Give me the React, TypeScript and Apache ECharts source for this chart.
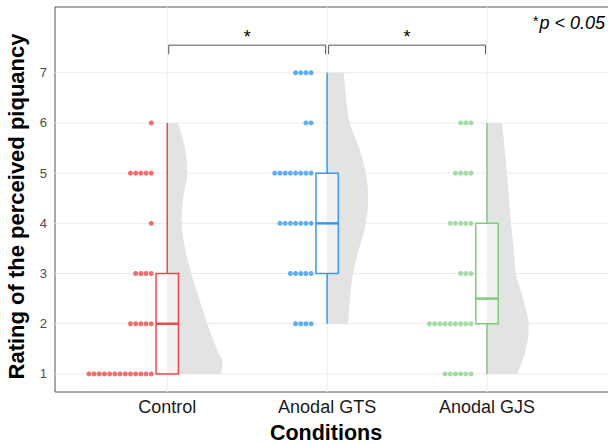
import React, { useEffect, useRef } from 'react';
import * as echarts from 'echarts';

// ---------- data ----------
const categories = ['Control', 'Anodal GTS', 'Anodal GJS'];
const ratingLevels = [1, 2, 3, 4, 5, 6, 7];
const controlCounts = [13, 5, 4, 1, 5, 1, 0];
const gtsCounts = [0, 4, 5, 7, 8, 2, 4];
const gjsCounts = [6, 9, 3, 5, 4, 3, 0];
const yTicks = [1, 2, 3, 4, 5, 6, 7];

// half-violin density outline (rating, half-width in x-axis units)
const controlDensityY = [1, 1.25, 1.5, 2, 2.5, 3, 3.5, 4, 4.5, 5, 5.5, 6];
const controlDensityW = [0.335, 0.345, 0.31, 0.25, 0.2, 0.15, 0.112, 0.09, 0.1, 0.125, 0.11, 0.067];
const gtsDensityY = [2, 2.5, 3, 3.5, 4, 4.5, 5, 5.5, 6, 6.5, 7];
const gtsDensityW = [0.131, 0.142, 0.163, 0.2, 0.242, 0.256, 0.242, 0.2, 0.142, 0.119, 0.104];
const gjsDensityY = [1, 1.5, 2, 2.5, 3, 3.5, 4, 4.5, 5, 5.5, 6];
const gjsDensityW = [0.19, 0.244, 0.26, 0.225, 0.181, 0.167, 0.15, 0.138, 0.125, 0.11, 0.094];

const comparisons = [[1, 2], [2, 3]];
const comparisonLabels = ['*', '*'];

// ---------- styling ----------
const FONT = '"Liberation Sans", Arial, Helvetica, sans-serif';
const dotColors = ['#F26D6D', '#5CAEF5', '#A3DBA3'];
const lineColors = ['#EB4A4C', '#3A98F0', '#7ECB7C'];
const X_MIN = 0.298;
const X_MAX = 3.788;
const Y_MIN = 0.64;
const Y_MAX = 8.31;
const DOT_OFFSET = 0.1;
const DOT_STEP = 0.0325;
const BOX_HALF = 0.07;
const BRACKET_Y = 7.55;
const BRACKET_TICK_Y = 7.37;

const allCounts = [controlCounts, gtsCounts, gjsCounts];
const densityY = [controlDensityY, gtsDensityY, gjsDensityY];
const densityW = [controlDensityW, gtsDensityW, gjsDensityW];

function expand(counts: number[]) {
  const out: number[] = [];
  counts.forEach((c, i) => {
    for (let k = 0; k < c; k++) out.push(ratingLevels[i]);
  });
  return out;
}
function quantile(sorted: number[], p: number) {
  const h = (sorted.length - 1) * p;
  const lo = Math.floor(h);
  const hi = Math.ceil(h);
  return sorted[lo] + (h - lo) * (sorted[hi] - sorted[lo]);
}
function boxStats(counts: number[]) {
  const v = expand(counts).sort((a, b) => a - b);
  const q1 = quantile(v, 0.25);
  const med = quantile(v, 0.5);
  const q3 = quantile(v, 0.75);
  const iqr = q3 - q1;
  const lo = v.filter((x) => x >= q1 - 1.5 * iqr)[0];
  const hiArr = v.filter((x) => x <= q3 + 1.5 * iqr);
  const hi = hiArr[hiArr.length - 1];
  return [lo, q1, med, q3, hi];
}
function catmull(pts: number[][], steps: number) {
  const out: number[][] = [];
  for (let i = 0; i < pts.length - 1; i++) {
    const p0 = pts[i - 1] || pts[i];
    const p1 = pts[i];
    const p2 = pts[i + 1];
    const p3 = pts[i + 2] || pts[i + 1];
    for (let s = 0; s < steps; s++) {
      const t = s / steps;
      const t2 = t * t;
      const t3 = t2 * t;
      const f = (a: number, b: number, c: number, d: number) =>
        0.5 * (2 * b + (-a + c) * t + (2 * a - 5 * b + 4 * c - d) * t2 + (-a + 3 * b - 3 * c + d) * t3);
      out.push([f(p0[0], p1[0], p2[0], p3[0]), f(p0[1], p1[1], p2[1], p3[1])]);
    }
  }
  out.push(pts[pts.length - 1]);
  return out;
}

export default function App() {
  const ref = useRef<HTMLDivElement>(null);
  useEffect(() => {
    document.body.style.margin = '0';
    if (!ref.current) return;
    const chart = echarts.init(ref.current, undefined, { renderer: 'svg' });

    const dotSeries = categories.map((name, g) => {
      const data: number[][] = [];
      allCounts[g].forEach((c, i) => {
        for (let k = 0; k < c; k++) data.push([g + 1 - DOT_OFFSET - k * DOT_STEP, ratingLevels[i]]);
      });
      return {
        type: 'scatter',
        name,
        data,
        symbolSize: 5,
        z: 3,
        itemStyle: { color: dotColors[g], opacity: 1 },
        emphasis: { disabled: true },
        silent: true,
      };
    });

    const stats = allCounts.map(boxStats);

    const option: any = {
      animation: false,
      grid: {
        left: 55,
        right: -5,
        top: 7,
        bottom: 52,
        show: true,
        borderColor: '#555555',
        borderWidth: 1,
        backgroundColor: 'transparent',
        containLabel: false,
        outerBoundsMode: 'none',
      },
      xAxis: {
        type: 'value',
        min: X_MIN,
        max: X_MAX,
        axisLine: { show: false },
        axisTick: { show: false },
        splitLine: { show: false },
        axisLabel: {
          customValues: [1, 2, 3],
          formatter: (v: number) => (Math.abs(v - Math.round(v)) < 1e-6 && categories[Math.round(v) - 1]) || '',
          margin: 6,
          fontSize: 18,
          color: '#1a1a1a',
          fontFamily: FONT,
        },
        name: 'Conditions',
        nameLocation: 'middle',
        nameGap: 30,
        nameTextStyle: { fontSize: 21.5, fontWeight: 'bold', color: '#000', fontFamily: FONT, padding: [0, 16, 0, 0] },
      },
      yAxis: {
        type: 'value',
        min: Y_MIN,
        max: Y_MAX,
        axisLine: { show: false },
        axisTick: { show: false },
        splitLine: { show: false },
        axisLabel: {
          customValues: yTicks,
          formatter: (v: number) =>
            Math.abs(v - Math.round(v)) < 1e-6 && v >= 1 && v <= 7 ? String(Math.round(v)) : '',
          margin: 8,
          fontSize: 13,
          color: '#4d4d4d',
          fontFamily: FONT,
        },
        name: 'Rating of the perceived piquancy',
        nameLocation: 'middle',
        nameGap: 28,
        nameTextStyle: { fontSize: 22, fontWeight: 'bold', color: '#000', fontFamily: FONT, padding: [0, 14, 0, 0] },
      },
      graphic: [
        {
          type: 'text',
          x: 605,
          y: 23,
          z: 10,
          style: {
            text: '{a|*}{p|p}{o|<}{n|0.05}',
            align: 'right',
            verticalAlign: 'middle',
            textAlign: 'right',
            textVerticalAlign: 'middle',
            rich: {
              a: { fontSize: 14, fontFamily: FONT, fill: '#000', color: '#000', verticalAlign: 'top', lineHeight: 10, padding: [0, 1, 0, 0] },
              p: { fontSize: 18, fontStyle: 'italic', fontFamily: FONT, fill: '#000', color: '#000' },
              o: { fontSize: 18, fontStyle: 'italic', fontFamily: FONT, fill: '#000', color: '#000', padding: [0, 5, 0, 5] },
              n: { fontSize: 18, fontStyle: 'italic', fontFamily: FONT, fill: '#000', color: '#000' },
            },
          },
        },
      ],
      series: [
        {
          type: 'custom',
          name: 'gridlines',
          z: 1,
          silent: true,
          data: [[1, 1]],
          renderItem: (params: any, api: any) => {
            const children: any[] = [];
            yTicks.forEach((t) => {
              const a = api.coord([X_MIN, t]);
              const b = api.coord([X_MAX, t]);
              children.push({ type: 'line', shape: { x1: a[0], y1: a[1], x2: b[0], y2: b[1] }, style: { stroke: '#ebebeb', lineWidth: 1 } });
            });
            categories.forEach((_, i) => {
              const a = api.coord([i + 1, Y_MIN]);
              const b = api.coord([i + 1, Y_MAX]);
              children.push({ type: 'line', shape: { x1: a[0], y1: a[1], x2: b[0], y2: b[1] }, style: { stroke: '#ebebeb', lineWidth: 1 } });
            });
            return { type: 'group', children };
          },
        },
        {
          type: 'custom',
          name: 'violins',
          z: 2,
          silent: true,
          data: categories.map((_, i) => [i + 1, 4]),
          renderItem: (params: any, api: any) => {
            const g = params.dataIndex;
            const ys = densityY[g];
            const ws = densityW[g];
            const cx = g + 1;
            const pts = ys.map((y, i) => api.coord([cx + ws[i], y]));
            const curve = catmull(pts, 10);
            const b0 = api.coord([cx, ys[0]]);
            const b1 = api.coord([cx, ys[ys.length - 1]]);
            return {
              type: 'polygon',
              shape: { points: [b0, ...curve, b1] },
              style: { fill: '#e3e3e3', stroke: 'none' },
            };
          },
        },
        ...dotSeries,
        {
          type: 'custom',
          name: 'boxes',
          z: 4,
          silent: true,
          data: stats.map((s, i) => [i + 1, ...s]),
          renderItem: (params: any, api: any) => {
            const g = params.dataIndex;
            const [lo, q1, med, q3, hi] = stats[g];
            const cx = g + 1;
            const col = lineColors[g];
            const tl = api.coord([cx - BOX_HALF, q3]);
            const br = api.coord([cx + BOX_HALF, q1]);
            const c = api.coord([cx, lo]);
            const cq1 = api.coord([cx, q1]);
            const cq3 = api.coord([cx, q3]);
            const chi = api.coord([cx, hi]);
            const ml = api.coord([cx - BOX_HALF, med]);
            const mr = api.coord([cx + BOX_HALF, med]);
            const children: any[] = [];
            if (q1 > lo)
              children.push({ type: 'line', shape: { x1: c[0], y1: c[1], x2: cq1[0], y2: cq1[1] }, style: { stroke: col, lineWidth: 1.5 } });
            if (hi > q3)
              children.push({ type: 'line', shape: { x1: cq3[0], y1: cq3[1], x2: chi[0], y2: chi[1] }, style: { stroke: col, lineWidth: 1.5 } });
            children.push({
              type: 'rect',
              shape: { x: tl[0], y: tl[1], width: br[0] - tl[0], height: br[1] - tl[1] },
              style: { fill: 'rgba(255,255,255,0.5)', stroke: col, lineWidth: 1.5 },
            });
            children.push({ type: 'line', shape: { x1: ml[0], y1: ml[1], x2: mr[0], y2: mr[1] }, style: { stroke: col, lineWidth: 2.5 } });
            return { type: 'group', children };
          },
        },
        {
          type: 'custom',
          name: 'brackets',
          z: 5,
          silent: true,
          data: comparisons.map((c) => [(c[0] + c[1]) / 2, BRACKET_Y]),
          renderItem: (params: any, api: any) => {
            const [a, b] = comparisons[params.dataIndex];
            const p1 = api.coord([a, BRACKET_TICK_Y]);
            const p2 = api.coord([a, BRACKET_Y]);
            const p3 = api.coord([b, BRACKET_Y]);
            const p4 = api.coord([b, BRACKET_TICK_Y]);
            const inset = 1.5;
            const mid = api.coord([(a + b) / 2, BRACKET_Y]);
            return {
              type: 'group',
              children: [
                {
                  type: 'polyline',
                  shape: { points: [[p1[0] + inset, p1[1]], [p2[0] + inset, p2[1]], [p3[0] - inset, p3[1]], [p4[0] - inset, p4[1]]] },
                  style: { stroke: '#555555', lineWidth: 1, fill: 'none' },
                },
                {
                  type: 'text',
                  x: mid[0],
                  y: mid[1] - 8,
                  style: {
                    text: comparisonLabels[params.dataIndex],
                    fontSize: 18,
                    fontFamily: FONT,
                    fill: '#000',
                    align: 'center',
                    verticalAlign: 'middle',
                  },
                },
              ],
            };
          },
        },
      ],
    };
    chart.setOption(option);
    return () => chart.dispose();
  }, []);
  return <div ref={ref} style={{ width: 608, height: 444 }} />;
}
